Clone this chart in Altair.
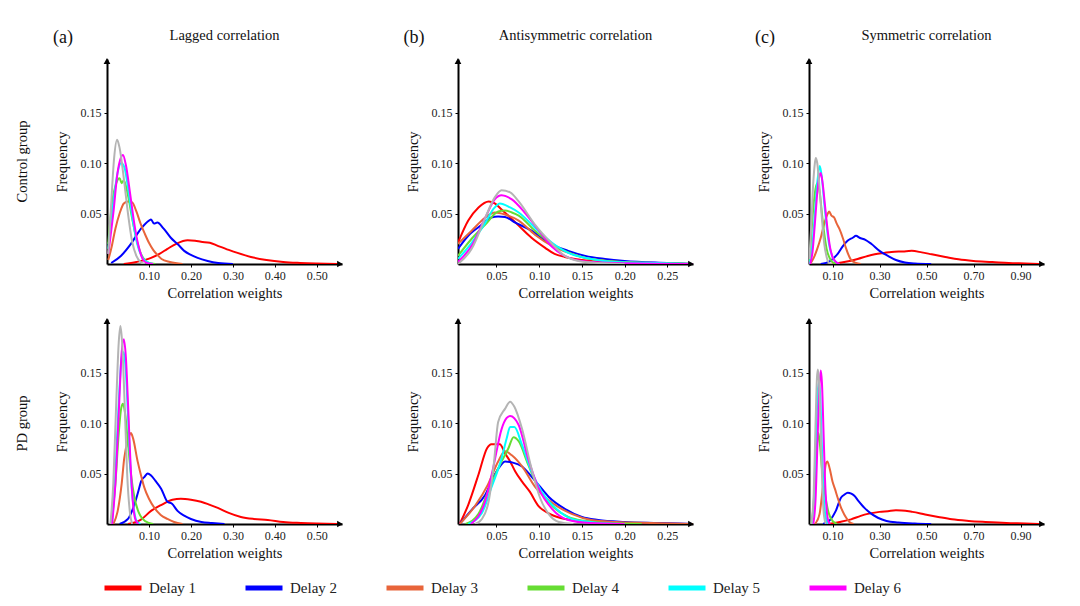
import altair as alt
import pandas as pd

SERIES = ["Delay 1", "Delay 2", "Delay 3", "Delay 4", "Delay 5", "Delay 6", "Delay 7"]
LEGEND_SERIES = SERIES[:6]
COLORS = ["#ff0000", "#0000ff", "#e8643a", "#66dd33", "#00ffff", "#ff00ff", "#b4b4b4"]

COLUMN_TITLES = ["Lagged correlation", "Antisymmetric correlation", "Symmetric correlation"]
PANEL_LETTERS = ["(a)", "(b)", "(c)"]
ROW_LABELS = ["Control group", "PD group"]
X_DOMAINS = [[0, 0.56], [0.005, 0.28], [0, 1.0]]
X_TICKS = [[0.1, 0.2, 0.3, 0.4, 0.5], [0.05, 0.10, 0.15, 0.20, 0.25], [0.1, 0.3, 0.5, 0.7, 0.9]]
Y_TICKS = [0.05, 0.10, 0.15]
Y_DOMAIN = [0, 0.203]
X_TITLE = "Correlation weights"
Y_TITLE = "Frequency"

# ---- (a) Lagged correlation, control group: (weight, frequency) points
LAG_CONTROL = {
    "Delay 1": [(0.04, 0), (0.07, 0.002), (0.105, 0.006), (0.125, 0.01), (0.144, 0.015), (0.165, 0.02),
                (0.192, 0.0235), (0.21, 0.023), (0.224, 0.022), (0.245, 0.021), (0.264, 0.018), (0.29, 0.014),
                (0.311, 0.011), (0.343, 0.007), (0.38, 0.004), (0.42, 0.002), (0.46, 0.001), (0.55, 0)],
    "Delay 2": [(0.01, 0.001), (0.033, 0.008), (0.057, 0.02), (0.081, 0.035), (0.1, 0.043), (0.105, 0.044),
                (0.112, 0.04), (0.12, 0.041), (0.135, 0.035), (0.152, 0.026), (0.17, 0.019), (0.184, 0.013),
                (0.2, 0.009), (0.216, 0.006), (0.24, 0.003), (0.265, 0.001), (0.3, 0)],
    "Delay 3": [(0.003, 0.004), (0.01, 0.015), (0.02, 0.035), (0.03, 0.05), (0.04, 0.06), (0.05, 0.062),
                (0.06, 0.061), (0.07, 0.052), (0.08, 0.04), (0.09, 0.03), (0.1, 0.021), (0.11, 0.014),
                (0.12, 0.009), (0.13, 0.005), (0.15, 0.002), (0.18, 0)],
    "Delay 4": [(0.003, 0.02), (0.012, 0.06), (0.022, 0.08), (0.03, 0.085), (0.035, 0.08), (0.04, 0.083),
                (0.05, 0.068), (0.06, 0.045), (0.07, 0.025), (0.08, 0.011), (0.09, 0.004), (0.1, 0.001), (0.115, 0)],
    "Delay 5": [(0.003, 0.015), (0.015, 0.06), (0.025, 0.09), (0.034, 0.1), (0.042, 0.095), (0.052, 0.07),
                (0.062, 0.042), (0.072, 0.02), (0.085, 0.006), (0.1, 0.001), (0.11, 0)],
    "Delay 6": [(0.003, 0.01), (0.015, 0.05), (0.025, 0.09), (0.033, 0.105), (0.038, 0.108), (0.045, 0.098),
                (0.055, 0.07), (0.065, 0.04), (0.075, 0.018), (0.085, 0.005), (0.095, 0.001), (0.11, 0)],
    "Delay 7": [(0.003, 0.01), (0.01, 0.06), (0.017, 0.105), (0.024, 0.123), (0.03, 0.115), (0.04, 0.085),
                (0.05, 0.05), (0.06, 0.022), (0.07, 0.008), (0.08, 0.002), (0.09, 0)],
}

# ---- (b) Antisymmetric correlation, control group
ANTI_CONTROL = {
    "Delay 1": [(0.005, 0.021), (0.017, 0.043), (0.029, 0.056), (0.041, 0.062), (0.048, 0.06), (0.056, 0.054),
                (0.066, 0.046), (0.076, 0.038), (0.091, 0.026), (0.107, 0.016), (0.118, 0.01), (0.13, 0.007),
                (0.15, 0.004), (0.18, 0.002), (0.22, 0.001), (0.28, 0)],
    "Delay 2": [(0.005, 0.015), (0.017, 0.028), (0.033, 0.039), (0.044, 0.046), (0.052, 0.047), (0.06, 0.0465),
                (0.072, 0.041), (0.091, 0.033), (0.111, 0.021), (0.134, 0.013), (0.154, 0.008), (0.177, 0.005),
                (0.2, 0.003), (0.25, 0.001), (0.28, 0)],
    "Delay 3": [(0.005, 0.02), (0.021, 0.033), (0.037, 0.046), (0.048, 0.051), (0.06, 0.049), (0.076, 0.043),
                (0.095, 0.029), (0.115, 0.018), (0.135, 0.011), (0.155, 0.006), (0.18, 0.003), (0.22, 0.001), (0.28, 0)],
    "Delay 4": [(0.005, 0.008), (0.021, 0.025), (0.037, 0.039), (0.052, 0.052), (0.06, 0.053), (0.068, 0.051),
                (0.076, 0.048), (0.095, 0.033), (0.115, 0.02), (0.138, 0.01), (0.16, 0.005), (0.2, 0.002),
                (0.24, 0.001), (0.28, 0)],
    "Delay 5": [(0.005, 0.005), (0.021, 0.021), (0.037, 0.041), (0.047, 0.055), (0.054, 0.06), (0.066, 0.056),
                (0.076, 0.051), (0.095, 0.036), (0.115, 0.021), (0.134, 0.011), (0.155, 0.006), (0.19, 0.002),
                (0.24, 0.001), (0.28, 0)],
    "Delay 6": [(0.005, 0.002), (0.021, 0.018), (0.037, 0.046), (0.048, 0.064), (0.056, 0.068), (0.068, 0.064),
                (0.083, 0.051), (0.099, 0.034), (0.115, 0.017), (0.13, 0.008), (0.15, 0.003), (0.19, 0.001), (0.28, 0)],
    "Delay 7": [(0.005, 0), (0.021, 0.015), (0.037, 0.046), (0.048, 0.066), (0.056, 0.073), (0.066, 0.071),
                (0.076, 0.062), (0.095, 0.039), (0.115, 0.02), (0.13, 0.008), (0.146, 0.003), (0.17, 0.001), (0.2, 0)],
}

# ---- (c) Symmetric correlation, control group
SYM_CONTROL = {
    "Delay 1": [(0.09, 0), (0.15, 0.002), (0.207, 0.005), (0.25, 0.008), (0.28, 0.0096), (0.32, 0.011),
                (0.351, 0.012), (0.4, 0.0125), (0.437, 0.013), (0.48, 0.0115), (0.522, 0.0096), (0.58, 0.007),
                (0.636, 0.0046), (0.7, 0.003), (0.78, 0.002), (0.85, 0.001), (0.92, 0.0005), (0.98, 0)],
    "Delay 2": [(0.05, 0), (0.09, 0.003), (0.122, 0.01), (0.145, 0.018), (0.164, 0.023), (0.186, 0.026),
                (0.2, 0.028), (0.215, 0.026), (0.24, 0.024), (0.265, 0.02), (0.3, 0.013), (0.336, 0.008),
                (0.37, 0.004), (0.408, 0.0015), (0.45, 0.0005), (0.52, 0)],
    "Delay 3": [(0.005, 0), (0.02, 0.006), (0.035, 0.015), (0.05, 0.026), (0.065, 0.04), (0.08, 0.05),
                (0.086, 0.052), (0.095, 0.048), (0.107, 0.046), (0.118, 0.04), (0.129, 0.035), (0.145, 0.025),
                (0.157, 0.016), (0.17, 0.008), (0.179, 0.004), (0.2, 0.001), (0.22, 0)],
    "Delay 4": [(0.002, 0), (0.01, 0.03), (0.02, 0.06), (0.03, 0.077), (0.036, 0.08), (0.045, 0.072),
                (0.055, 0.05), (0.065, 0.03), (0.075, 0.015), (0.09, 0.005), (0.105, 0.001), (0.12, 0)],
    "Delay 5": [(0.003, 0), (0.015, 0.02), (0.025, 0.05), (0.035, 0.08), (0.046, 0.097), (0.055, 0.085),
                (0.065, 0.06), (0.075, 0.038), (0.085, 0.02), (0.1, 0.007), (0.12, 0.001), (0.13, 0)],
    "Delay 6": [(0.005, 0), (0.015, 0.012), (0.025, 0.04), (0.035, 0.07), (0.045, 0.088), (0.05, 0.09),
                (0.058, 0.08), (0.068, 0.058), (0.08, 0.032), (0.09, 0.016), (0.1, 0.007), (0.115, 0.002), (0.13, 0)],
    "Delay 7": [(0.002, 0.005), (0.01, 0.04), (0.018, 0.08), (0.025, 0.1), (0.029, 0.105), (0.035, 0.1),
                (0.045, 0.075), (0.055, 0.045), (0.065, 0.02), (0.075, 0.007), (0.086, 0.001), (0.1, 0)],
}

# ---- (a) Lagged correlation, PD group
LAG_PD = {
    "Delay 1": [(0.05, 0), (0.08, 0.004), (0.105, 0.013), (0.13, 0.019), (0.156, 0.024), (0.176, 0.025),
                (0.2, 0.024), (0.224, 0.022), (0.245, 0.019), (0.264, 0.016), (0.29, 0.011), (0.319, 0.007),
                (0.35, 0.005), (0.383, 0.004), (0.42, 0.002), (0.462, 0.001), (0.55, 0)],
    "Delay 2": [(0.03, 0), (0.05, 0.005), (0.065, 0.019), (0.075, 0.033), (0.081, 0.042), (0.09, 0.047),
                (0.097, 0.05), (0.105, 0.048), (0.115, 0.043), (0.129, 0.035), (0.144, 0.022), (0.155, 0.02),
                (0.168, 0.013), (0.185, 0.008), (0.2, 0.005), (0.225, 0.002), (0.25, 0.001), (0.28, 0)],
    "Delay 3": [(0.015, 0), (0.025, 0.012), (0.035, 0.04), (0.041, 0.065), (0.05, 0.083), (0.057, 0.09),
                (0.062, 0.085), (0.073, 0.062), (0.08, 0.05), (0.089, 0.036), (0.1, 0.025), (0.113, 0.016),
                (0.128, 0.009), (0.144, 0.005), (0.16, 0.002), (0.18, 0)],
    "Delay 4": [(0.01, 0), (0.02, 0.04), (0.028, 0.09), (0.034, 0.115), (0.038, 0.119), (0.043, 0.11),
                (0.05, 0.08), (0.057, 0.05), (0.065, 0.027), (0.075, 0.012), (0.085, 0.005), (0.1, 0.001), (0.11, 0)],
    "Delay 5": [(0.012, 0), (0.02, 0.05), (0.028, 0.12), (0.035, 0.165), (0.04, 0.17), (0.045, 0.15),
                (0.052, 0.09), (0.058, 0.04), (0.065, 0.012), (0.072, 0.002), (0.08, 0)],
    "Delay 6": [(0.012, 0), (0.02, 0.04), (0.028, 0.11), (0.035, 0.17), (0.04, 0.183), (0.045, 0.165),
                (0.05, 0.12), (0.056, 0.06), (0.062, 0.02), (0.068, 0.004), (0.075, 0)],
    "Delay 7": [(0.008, 0), (0.015, 0.04), (0.022, 0.12), (0.028, 0.18), (0.032, 0.196), (0.036, 0.18),
                (0.042, 0.12), (0.048, 0.05), (0.055, 0.01), (0.06, 0)],
}

# ---- (b) Antisymmetric correlation, PD group
ANTI_PD = {
    "Delay 1": [(0.007, 0), (0.017, 0.019), (0.029, 0.049), (0.039, 0.075), (0.044, 0.079), (0.054, 0.079),
                (0.06, 0.07), (0.066, 0.062), (0.072, 0.052), (0.08, 0.042), (0.089, 0.032), (0.099, 0.018),
                (0.11, 0.011), (0.125, 0.006), (0.15, 0.003), (0.2, 0.001), (0.28, 0)],
    "Delay 2": [(0.007, 0), (0.021, 0.014), (0.037, 0.029), (0.048, 0.049), (0.055, 0.058), (0.06, 0.062),
                (0.068, 0.061), (0.08, 0.057), (0.091, 0.047), (0.1, 0.038), (0.111, 0.027), (0.13, 0.015),
                (0.15, 0.007), (0.169, 0.004), (0.2, 0.002), (0.24, 0.001), (0.28, 0)],
    "Delay 3": [(0.007, 0), (0.025, 0.018), (0.04, 0.039), (0.052, 0.062), (0.06, 0.072), (0.068, 0.068),
                (0.08, 0.057), (0.095, 0.037), (0.115, 0.021), (0.138, 0.01), (0.161, 0.004), (0.19, 0.002),
                (0.23, 0.001), (0.28, 0)],
    "Delay 4": [(0.014, 0), (0.029, 0.01), (0.04, 0.032), (0.052, 0.055), (0.064, 0.075), (0.07, 0.086),
                (0.076, 0.082), (0.087, 0.059), (0.099, 0.036), (0.115, 0.018), (0.134, 0.007), (0.154, 0.003),
                (0.18, 0.001), (0.22, 0)],
    "Delay 5": [(0.017, 0), (0.033, 0.011), (0.044, 0.036), (0.056, 0.065), (0.062, 0.085), (0.066, 0.096),
                (0.071, 0.096), (0.08, 0.078), (0.091, 0.052), (0.103, 0.032), (0.12, 0.015), (0.138, 0.005),
                (0.16, 0.002), (0.2, 0)],
    "Delay 6": [(0.02, 0), (0.037, 0.023), (0.046, 0.055), (0.056, 0.094), (0.062, 0.105), (0.066, 0.107),
                (0.076, 0.098), (0.087, 0.065), (0.099, 0.036), (0.115, 0.015), (0.134, 0.004), (0.16, 0.001), (0.2, 0)],
    "Delay 7": [(0.025, 0), (0.033, 0.005), (0.041, 0.023), (0.047, 0.06), (0.052, 0.101), (0.06, 0.114),
                (0.066, 0.121), (0.071, 0.116), (0.08, 0.094), (0.091, 0.055), (0.101, 0.026), (0.111, 0.01),
                (0.123, 0.002), (0.14, 0)],
}

# ---- (c) Symmetric correlation, PD group
SYM_PD = {
    "Delay 1": [(0.08, 0), (0.13, 0.002), (0.179, 0.0046), (0.22, 0.008), (0.25, 0.01), (0.3, 0.012),
                (0.336, 0.0127), (0.37, 0.0135), (0.394, 0.0134), (0.44, 0.012), (0.494, 0.0095), (0.55, 0.007),
                (0.608, 0.0046), (0.68, 0.003), (0.751, 0.002), (0.84, 0.001), (0.92, 0.0005), (0.98, 0)],
    "Delay 2": [(0.06, 0), (0.09, 0.004), (0.114, 0.013), (0.136, 0.026), (0.15, 0.029), (0.165, 0.031),
                (0.18, 0.03), (0.193, 0.028), (0.21, 0.023), (0.236, 0.016), (0.26, 0.011), (0.293, 0.0062),
                (0.33, 0.003), (0.38, 0.0015), (0.45, 0.0005), (0.52, 0)],
    "Delay 3": [(0.025, 0), (0.045, 0.01), (0.057, 0.032), (0.066, 0.05), (0.072, 0.06), (0.078, 0.062),
                (0.088, 0.055), (0.1, 0.042), (0.11, 0.035), (0.122, 0.026), (0.135, 0.017), (0.15, 0.0095),
                (0.162, 0.005), (0.172, 0.002), (0.19, 0)],
    "Delay 4": [(0.01, 0), (0.02, 0.02), (0.03, 0.065), (0.036, 0.085), (0.04, 0.09), (0.046, 0.08),
                (0.055, 0.055), (0.065, 0.035), (0.075, 0.02), (0.085, 0.01), (0.1, 0.003), (0.12, 0)],
    "Delay 5": [(0.012, 0), (0.022, 0.03), (0.03, 0.09), (0.037, 0.13), (0.042, 0.14), (0.048, 0.125),
                (0.055, 0.075), (0.062, 0.03), (0.07, 0.008), (0.08, 0)],
    "Delay 6": [(0.018, 0), (0.028, 0.025), (0.036, 0.08), (0.043, 0.13), (0.05, 0.152), (0.055, 0.14),
                (0.062, 0.09), (0.068, 0.045), (0.075, 0.015), (0.082, 0.003), (0.09, 0)],
    "Delay 7": [(0.01, 0), (0.02, 0.03), (0.028, 0.1), (0.034, 0.145), (0.038, 0.153), (0.043, 0.14),
                (0.05, 0.09), (0.057, 0.035), (0.064, 0.008), (0.072, 0)],
}

PANELS = [[LAG_CONTROL, ANTI_CONTROL, SYM_CONTROL], [LAG_PD, ANTI_PD, SYM_PD]]

FONT = "Liberation Serif"
W, H = 235, 205


def to_frame(panel):
    rows = []
    for s in SERIES:
        for i, (x, y) in enumerate(panel[s]):
            rows.append({"series": s, "x": x, "y": y, "i": i})
    return pd.DataFrame(rows)


def one(**kw):
    return pd.DataFrame([kw])


def make_panel(row, col):
    df = to_frame(PANELS[row][col])
    lines = alt.Chart(df).mark_line(strokeWidth=2, interpolate="monotone", clip=True).encode(
        x=alt.X("x:Q",
                scale=alt.Scale(domain=X_DOMAINS[col], nice=False, zero=False),
                axis=alt.Axis(values=X_TICKS[col], format=".2f", title=X_TITLE, grid=False,
                              domainColor="black", domainWidth=2, tickColor="black", tickSize=3,
                              labelFont=FONT, labelFontSize=12, labelColor="#222", labelPadding=3,
                              titleFont=FONT, titleFontSize=14.5, titleFontWeight="normal",
                              titleColor="#111", titlePadding=5, labelFlush=False)),
        y=alt.Y("y:Q",
                scale=alt.Scale(domain=Y_DOMAIN, nice=False),
                axis=alt.Axis(values=Y_TICKS, format=".2f", title=Y_TITLE, grid=False,
                              domainColor="black", domainWidth=2, tickColor="black", tickSize=3,
                              labelFont=FONT, labelFontSize=12, labelColor="#222", labelPadding=3,
                              titleFont=FONT, titleFontSize=14.5, titleFontWeight="normal",
                              titleColor="#111", titlePadding=11, labelFlush=False)),
        color=alt.Color("series:N",
                        scale=alt.Scale(domain=SERIES, range=COLORS),
                        legend=alt.Legend(values=LEGEND_SERIES, orient="none", legendX=-5, legendY=508,
                                          direction="horizontal", columns=6, title=None,
                                          symbolType="stroke", symbolStrokeWidth=5, symbolSize=1369,
                                          labelFont=FONT, labelFontSize=15, labelColor="#222",
                                          labelOffset=5, columnPadding=38, gridAlign="all", padding=0)),
        order="i:Q",
    )
    y_arrow = alt.Chart(one(a=0)).mark_point(shape="triangle-up", filled=True, size=45, color="black",
                                             opacity=1).encode(x=alt.value(0), y=alt.value(2))
    x_arrow = alt.Chart(one(a=0)).mark_point(shape="triangle-right", filled=True, size=45, color="black",
                                             opacity=1).encode(x=alt.value(W - 2), y=alt.value(H))
    layers = [lines, y_arrow, x_arrow]
    if row == 0:
        layers.append(alt.Chart(one(t=COLUMN_TITLES[col])).mark_text(
            font=FONT, fontSize=14.5, color="#111", align="center", baseline="middle").encode(
            x=alt.value(W / 2), y=alt.value(-23), text="t:N"))
        layers.append(alt.Chart(one(t=PANEL_LETTERS[col])).mark_text(
            font=FONT, fontSize=18, color="#111", align="center", baseline="middle").encode(
            x=alt.value(-44), y=alt.value(-21), text="t:N"))
    if col == 0:
        layers.append(alt.Chart(one(t=ROW_LABELS[row])).mark_text(
            font=FONT, fontSize=14.5, color="#111", align="center", baseline="middle", angle=270).encode(
            x=alt.value(-84), y=alt.value(H / 2 + (0 if row == 0 else 2)), text="t:N"))
    return alt.layer(*layers).properties(width=W, height=H)


panels = [make_panel(r, c) for r in range(2) for c in range(3)]

chart = alt.concat(*panels, columns=3, spacing={"row": 55, "column": 116}, bounds="flush").properties(
    padding={"left": 7, "top": 20, "right": 5, "bottom": 5}
).configure(background="white").configure_view(strokeWidth=0)

chart.save("out.html", embed_options={"renderer": "svg", "actions": False})
